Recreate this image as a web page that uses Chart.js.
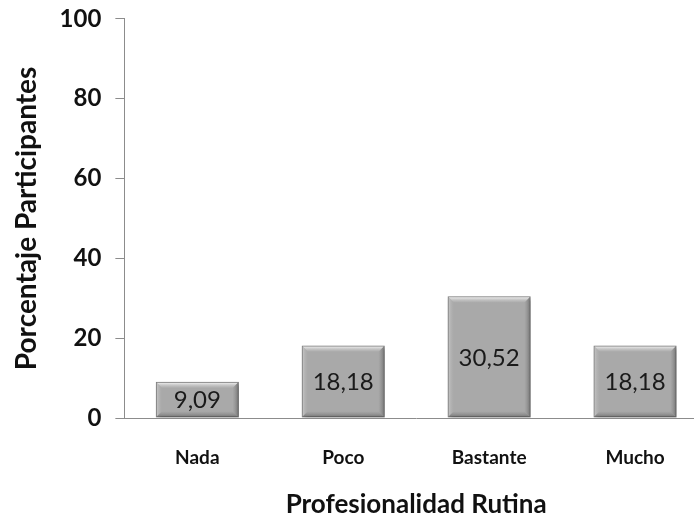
<!DOCTYPE html>
<html>
<head>
<meta charset="utf-8">
<script src="https://cdn.jsdelivr.net/npm/chart.js@4/dist/chart.umd.min.js"></script>
<style>
html,body{margin:0;padding:0;background:#fff;overflow:hidden;}
#wrap{width:708px;height:518px;position:relative;}
</style>
</head>
<body>
<div id="wrap"><canvas id="c" width="708" height="518"></canvas></div>
<script>
const categories = ["Nada", "Poco", "Bastante", "Mucho"];
const values = [9.09, 18.18, 30.52, 18.18];
const yTicks = [0, 20, 40, 60, 80, 100];
const xTitle = "Profesionalidad Rutina";
const yTitle = "Porcentaje Participantes";

const FONT = "Lato, 'Open Sans', sans-serif";

const shadowPlugin = {
  id: 'shadow',
  beforeDatasetsDraw(chart) {
    const ctx = chart.ctx;
    ctx.save();
    ctx.shadowColor = 'rgba(0,0,0,0.35)';
    ctx.shadowBlur = 4;
    ctx.shadowOffsetX = 2;
    ctx.shadowOffsetY = 2;
  },
  afterDatasetsDraw(chart) {
    chart.ctx.restore();
  }
};

// soft bevel on each bar, using the bar element geometry from the library
const bevelPlugin = {
  id: 'bevel',
  afterDatasetsDraw(chart) {
    const ctx = chart.ctx;
    const meta = chart.getDatasetMeta(0);
    const b = 5;
    ctx.save();
    meta.data.forEach((bar) => {
      const l = bar.x - bar.width / 2 + 1, r = bar.x + bar.width / 2 - 1;
      const t = bar.y + 1, btm = bar.base - 1;
      let g = ctx.createLinearGradient(0, t, 0, t + b);
      g.addColorStop(0, 'rgba(240,240,240,0.95)');
      g.addColorStop(1, 'rgba(200,200,200,0.2)');
      ctx.fillStyle = g;
      ctx.beginPath();
      ctx.moveTo(l, t); ctx.lineTo(r, t); ctx.lineTo(r - b, t + b); ctx.lineTo(l + b, t + b); ctx.closePath();
      ctx.fill();
      g = ctx.createLinearGradient(l, 0, l + b, 0);
      g.addColorStop(0, 'rgba(200,200,200,0.8)');
      g.addColorStop(1, 'rgba(180,180,180,0.1)');
      ctx.fillStyle = g;
      ctx.beginPath();
      ctx.moveTo(l, t); ctx.lineTo(l + b, t + b); ctx.lineTo(l + b, btm - b); ctx.lineTo(l, btm); ctx.closePath();
      ctx.fill();
      g = ctx.createLinearGradient(r, 0, r - b, 0);
      g.addColorStop(0, 'rgba(110,110,110,0.8)');
      g.addColorStop(1, 'rgba(140,140,140,0.1)');
      ctx.fillStyle = g;
      ctx.beginPath();
      ctx.moveTo(r, t); ctx.lineTo(r, btm); ctx.lineTo(r - b, btm - b); ctx.lineTo(r - b, t + b); ctx.closePath();
      ctx.fill();
      g = ctx.createLinearGradient(0, btm, 0, btm - b);
      g.addColorStop(0, 'rgba(110,110,110,0.8)');
      g.addColorStop(1, 'rgba(140,140,140,0.1)');
      ctx.fillStyle = g;
      ctx.beginPath();
      ctx.moveTo(l, btm); ctx.lineTo(r, btm); ctx.lineTo(r - b, btm - b); ctx.lineTo(l + b, btm - b); ctx.closePath();
      ctx.fill();
    });
    ctx.restore();
  }
};

const labelPlugin = {
  id: 'barLabels',
  afterDatasetsDraw(chart) {
    const ctx = chart.ctx;
    const meta = chart.getDatasetMeta(0);
    ctx.save();
    ctx.shadowColor = 'transparent';
    ctx.font = "24px " + FONT;
    ctx.fillStyle = '#1a1a1a';
    ctx.textAlign = 'center';
    ctx.textBaseline = 'middle';
    meta.data.forEach((bar, i) => {
      const v = values[i];
      const txt = v.toFixed(2).replace('.', ',');
      const cy = (bar.y + bar.base) / 2 + 1;
      ctx.fillText(txt, bar.x, cy);
    });
    ctx.restore();
  }
};

new Chart(document.getElementById('c'), {
  type: 'bar',
  data: {
    labels: categories,
    datasets: [{
      data: values,
      backgroundColor: '#a9a9a9',
      borderColor: '#7e7e7e',
      borderWidth: 1.5,
      borderSkipped: false,
      barPercentage: 0.57,
      categoryPercentage: 1.0
    }]
  },
  options: {
    responsive: false,
    animation: false,
    devicePixelRatio: 1,
    layout: { padding: { top: 0, right: 0, left: 10, bottom: -2 } },
    plugins: {
      legend: { display: false },
      tooltip: { enabled: false }
    },
    scales: {
      y: {
        min: 0,
        max: 100,
        afterBuildTicks(axis) { axis.ticks = yTicks.map(v => ({ value: v })); },
        grid: {
          display: true,
          drawOnChartArea: false,
          drawTicks: true,
          tickLength: 9,
          color: '#8c8c8c',
          lineWidth: 1
        },
        border: { display: true, color: '#8c8c8c', width: 1 },
        ticks: {
          padding: 14,
          color: '#111',
          font: { family: FONT, size: 24, weight: 'bold', lineHeight: 0.4 }
        },
        title: {
          display: true,
          text: yTitle,
          color: '#111',
          padding: { top: 0, bottom: 2 },
          font: { family: FONT, size: 28, weight: 'bold' }
        }
      },
      x: {
        grid: { display: false, drawTicks: false },
        border: { display: true, color: '#8c8c8c', width: 1 },
        ticks: {
          padding: 28,
          color: '#111',
          font: { family: FONT, size: 19, weight: 'bold' }
        },
        title: {
          display: true,
          text: xTitle,
          color: '#111',
          padding: { top: -8, bottom: 0 },
          font: { family: FONT, size: 26, weight: 'bold' }
        }
      }
    }
  },
  plugins: [shadowPlugin, bevelPlugin, labelPlugin]
});
</script>
</body>
</html>
